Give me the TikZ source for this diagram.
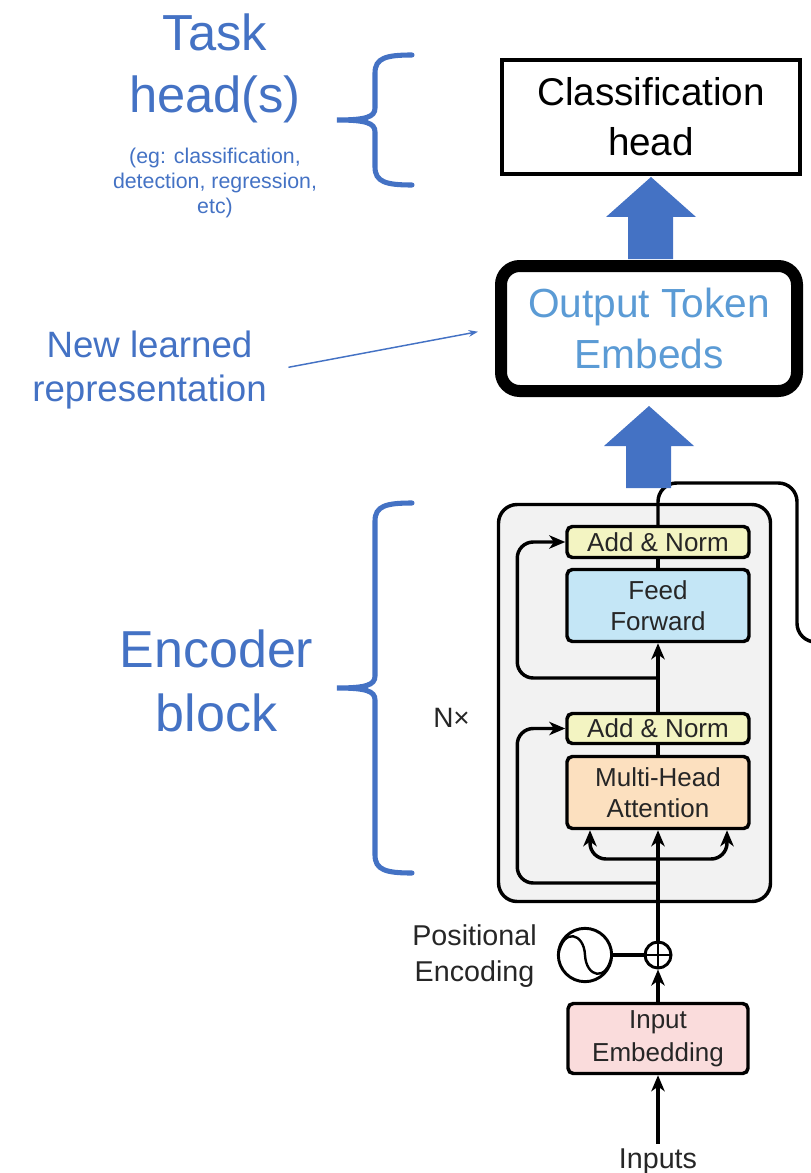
\documentclass[tikz,border=0pt]{standalone}
\usepackage{fontspec}
\setmainfont{Liberation Sans}
\usetikzlibrary{arrows.meta,calc}
\definecolor{taskblue}{HTML}{4472C4}
\definecolor{embblue}{HTML}{5B9BD5}
\definecolor{normfill}{HTML}{F3F4C2}
\definecolor{fffill}{HTML}{C4E6F6}
\definecolor{attfill}{HTML}{FCE0BF}
\definecolor{embfill}{HTML}{FADCDC}
\definecolor{encfill}{HTML}{F2F2F2}
\definecolor{ink}{HTML}{262626}

\begin{document}
\begin{tikzpicture}[x=0.75pt,y=-0.75pt,
		flow/.style={line width=2.6pt, black},
		tip/.style={-{Stealth[length=12pt,width=10pt,inset=3.5pt]}},
		layer/.style={draw, line width=2.6pt, rounded corners=4pt, minimum width=136.5pt, inner sep=0pt, align=center, text=ink, font=\fontsize{19.5}{23.5}\selectfont},
		brace/.style={draw=taskblue, line width=3.8pt, line cap=round},
		bluetext/.style={text=taskblue, align=center},
		blockarrow/.style={fill=taskblue}]
		\useasboundingbox (0,0) rectangle (810,1173);
		% left side labels
		\node[bluetext, font=\fontsize{38}{47}\selectfont] (task) at (215,68.5) {Task\\head(s)};
		\node[bluetext, font=\fontsize{16}{18.75}\selectfont] (taskeg) at (215,182.5) {(eg: classification,\\detection, regression,\\etc)};
		\node[bluetext, font=\fontsize{27.5}{33}\selectfont] (nlr) at (149.5,370.5) {New learned\\representation};
		\node[bluetext, font=\fontsize{39}{48}\selectfont] (enctxt) at (216.5,681) {Encoder\\block};
		\foreach \yt/\ym/\yb in {55/120/185, 503/688/873}
			\draw[brace] (412,\yt) .. controls (386,\yt) and (375,\yt+3) .. (375,\yt+18) -- (375,\ym-12) .. controls (375,\ym-3) and (366,\ym) .. (337,\ym) .. controls (366,\ym) and (375,\ym+3) .. (375,\ym+12) -- (375,\yb-18) .. controls (375,\yb-3) and (386,\yb) .. (412,\yb);
		% heads
		\node[draw, line width=3pt, minimum width=223.5pt, minimum height=85.5pt, align=center, font=\fontsize{29}{37.5}\selectfont] (cls) at (651,117) {Classification\\head};
		\node[draw, line width=9pt, rounded corners=14pt, minimum width=222pt, minimum height=93.75pt, align=center, text=embblue, font=\fontsize{30.5}{38}\selectfont] (out) at (649,328.5) {Output Token\\Embeds};
		\draw[taskblue, line width=1.1pt, -{Stealth[length=7pt,width=5pt]}, shorten <=13pt, shorten >=13pt] (nlr.east) -- (out.west);
		% encoder
		\node[draw, fill=encfill, line width=2.6pt, rounded corners=14pt, minimum width=204pt, minimum height=297.75pt] (enc) at (634.5,703) {};
		\node[font=\fontsize{21}{25}\selectfont, text=ink, inner sep=0pt, anchor=base west] (nx) at (433,727) {N×};
		\coordinate (res2) at (658,678);
		\coordinate (res1) at (658,883);
		\coordinate (split) at (658,859);
		\node[layer, fill=normfill, minimum height=23.25pt] (an1) at (658,542) {Add \& Norm};
		\node[layer, fill=fffill, minimum height=54pt] (ff) at (658,605.5) {Feed\\Forward};
		\node[layer, fill=normfill, minimum height=22.5pt] (an2) at (658,728.5) {Add \& Norm};
		\node[layer, fill=attfill, minimum height=54pt] (mha) at (658,792.5) {Multi-Head\\Attention};
		\node[layer, fill=embfill, minimum width=135pt, minimum height=52.5pt, font=\fontsize{19.5}{25}\selectfont] (emb) at (658,1038.5) {Input\\Embedding};
		\node[draw, circle, line width=2.2pt, minimum size=40pt] (pe) at (585,955) {};
		\node[draw, circle, line width=2.2pt, fill=white, minimum size=19.5pt, inner sep=0pt] (plus) at (658,955) {};
		\draw[line width=2pt] (plus.north) -- (plus.south) (plus.west) -- (plus.east);
		\draw[line width=1.8pt] ([xshift=1pt]pe.west) .. controls +(5,-28) and +(-1,-22) .. (pe.center) .. controls +(1,22) and +(-5,28) .. ([xshift=-1pt]pe.east);
		\node[text=ink, align=center, font=\fontsize{21.5}{27.5}\selectfont] (posenc) at (474.5,956) {Positional\\Encoding};
		\node[text=ink, anchor=base, font=\fontsize{21.5}{25}\selectfont] (inp) at (658,1168) {Inputs};
		% connections
		\draw[flow, tip] (inp) -- (emb);
		\draw[flow, tip] (emb) -- (plus);
		\draw[flow] (pe) -- (plus);
		\draw[flow, tip] (plus) -- (mha);
		\draw[flow, tip, rounded corners=12pt] (split) -| ($(mha.south)+(-68,0)$);
		\draw[flow, tip, rounded corners=12pt] (split) -| ($(mha.south)+(69,0)$);
		\draw[flow, tip, rounded corners=12pt] (res1) -| ($(an2.west)+(-48,0)$) -- (an2.west);
		\draw[flow] (mha) -- (an2);
		\draw[flow, tip] (an2) -- (ff);
		\draw[flow, tip, rounded corners=12pt] (res2) -| ($(an1.west)+(-48,0)$) -- (an1.west);
		\draw[flow] (ff) -- (an1);
		\draw[flow, rounded corners=14pt] (an1.north) |- (797,483) -- (797,642) -- (830,642);
		% block arrows
		\foreach \head/\off in {cls/1, out/9}
			\fill[blockarrow] ($(\head.south)+(0,\off)$) -- ++(45,40) -- ++(-23,0) -- ++(0,42) -- ++(-45,0) -- ++(0,-42) -- ++(-22,0) -- cycle;
	\end{tikzpicture}
\end{document}
